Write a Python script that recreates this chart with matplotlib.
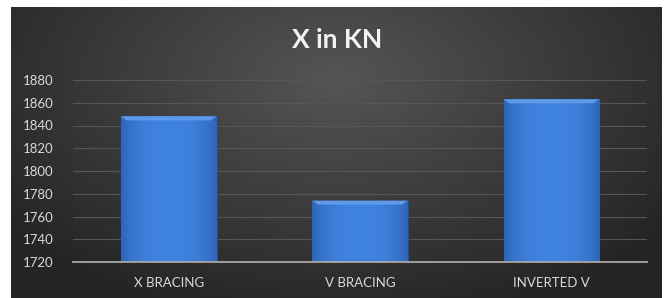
import numpy as np
import matplotlib
matplotlib.use('Agg')
from matplotlib import pyplot as plt

categories = ['X BRACING', 'V BRACING', 'INVERTED V']
values = [1848, 1774, 1863]
yticks = [1720, 1740, 1760, 1780, 1800, 1820, 1840, 1860, 1880]

W, H = 667, 298
fig = plt.figure(figsize=(W / 100, H / 100), dpi=100)
fig.patch.set_facecolor('white')

# dark radial background
bg = fig.add_axes([11 / W, 0, 650 / W, 291 / H], zorder=0)
yy, xx = np.mgrid[0:1:200j, 0:1:400j]
r = np.sqrt(((xx - 0.5) / 0.75) ** 2 + ((yy - 0.75) / 1.0) ** 2)
r = np.clip(r / 0.85, 0, 1)
c0 = np.array([0x55, 0x55, 0x55]) / 255
c1 = np.array([0x24, 0x24, 0x24]) / 255
img = c0[None, None, :] * (1 - r[..., None]) + c1[None, None, :] * r[..., None]
bg.imshow(img, origin='lower', extent=[0, 1, 0, 1], aspect='auto')
bg.set_axis_off()

ax = fig.add_axes([73 / W, 1 - 262 / H, 574 / W, 182 / H], zorder=1)
ax.patch.set_alpha(0)
x = np.arange(len(categories))
bars = ax.bar(x, values, width=0.5, bottom=0, color='#3b7bd6',
              edgecolor='#1f4f96', linewidth=0.8, zorder=3)

# bevel-like shading inside each bar
grad = np.linspace(0, 1, 100)[None, :]
shade = np.abs(grad - 0.5) * 2
cmap = matplotlib.colors.LinearSegmentedColormap.from_list('b', ['#3f82df', '#2f65b6'])
for b in bars:
    bx, by = b.get_x(), b.get_y()
    im = ax.imshow(shade ** 3, cmap=cmap, extent=[bx, bx + b.get_width(), 1720, b.get_height()],
                   aspect='auto', zorder=3.5)
    im.set_clip_path(b)
    ax.fill([bx, bx + b.get_width(), bx + b.get_width() - 0.03, bx + 0.03],
            [b.get_height()] * 2 + [b.get_height() - 3.5] * 2,
            color='#5e9ae9', lw=0, zorder=4)

ax.set_xlim(-0.5, 2.5)
ax.set_ylim(1720, 1880)
ax.set_yticks(yticks)
ax.set_xticks(x)
ax.set_xticklabels(categories)
ax.grid(axis='y', color='#565656', linewidth=0.8, zorder=1)
ax.set_axisbelow(True)
for s in ['top', 'right', 'left']:
    ax.spines[s].set_visible(False)
ax.spines['bottom'].set_color('#a8a8a8')
ax.spines['bottom'].set_linewidth(1.3)
ax.spines['bottom'].set_zorder(5)
ax.tick_params(axis='y', length=0, pad=14, labelsize=9.5, labelcolor='#d9d9d9')
ax.tick_params(axis='x', length=0, pad=11, labelsize=9.5, labelcolor='#d9d9d9')
for lbl in ax.get_xticklabels() + ax.get_yticklabels():
    lbl.set_family(['Lato', 'DejaVu Sans'])

fig.text(337 / W, 1 - 40 / H, 'X in KN', ha='center', va='center', fontsize=19,
         fontweight='bold', color='#f2f2f2', family=['Lato', 'DejaVu Sans'])

fig.savefig('out.png', dpi=100, facecolor=fig.get_facecolor())
